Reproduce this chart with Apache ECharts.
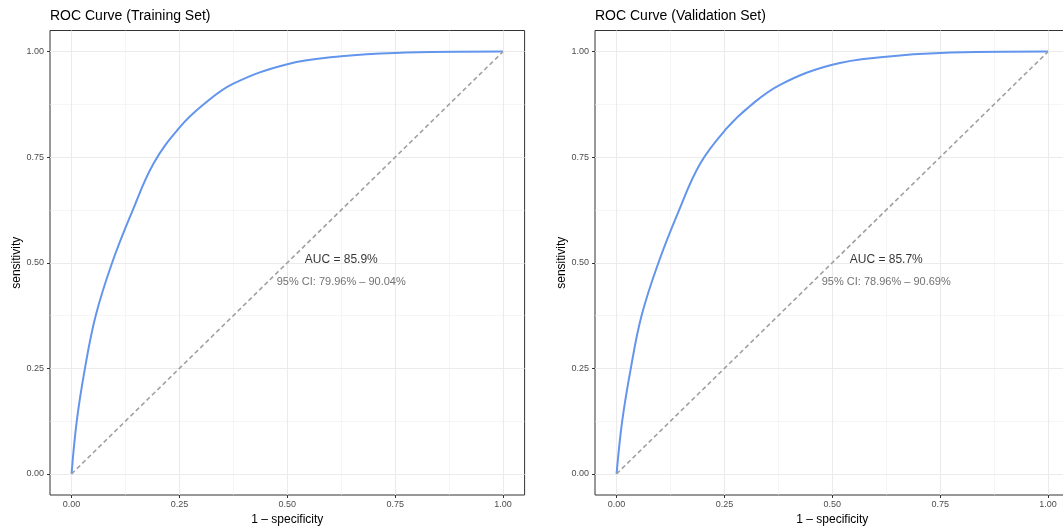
<!DOCTYPE html>
<html>
<head>
<meta charset="utf-8">
<script src="https://cdn.jsdelivr.net/npm/echarts@6/dist/echarts.min.js"></script>
<style>html,body{margin:0;padding:0;background:#fff;overflow:hidden}#c{width:1080px;height:527px}</style>
</head>
<body>
<div id="c"></div>
<script>
// ---- data ----
const panelTitles = ['ROC Curve (Training Set)', 'ROC Curve (Validation Set)'];
const fprTrain = [0, 0.012, 0.031, 0.056, 0.094, 0.14, 0.19, 0.25, 0.305, 0.375, 0.5, 0.625, 0.75, 1];
const tprTrain = [0, 0.125, 0.25, 0.375, 0.5, 0.62, 0.735, 0.82, 0.874, 0.924, 0.970, 0.989, 0.997, 1];
const fprValid = [0, 0.013, 0.033, 0.058, 0.097, 0.143, 0.194, 0.255, 0.31, 0.38, 0.5, 0.625, 0.75, 1];
const tprValid = [0, 0.125, 0.25, 0.375, 0.5, 0.62, 0.735, 0.818, 0.872, 0.922, 0.969, 0.988, 0.997, 1];
const diagX = [0, 1];
const diagY = [0, 1];
const aucLabels = ['AUC = 85.9%', 'AUC = 85.7%'];
const ciLabels = ['95% CI: 79.96% \u2013 90.04%', '95% CI: 78.96% \u2013 90.69%'];
const majorTicks = [0, 0.25, 0.5, 0.75, 1];
const minorTicks = [0.125, 0.375, 0.625, 0.875];
const xTitle = '1 \u2013 specificity';
const yTitle = 'sensitivity';

// ---- chart ----
const FONT = '"Liberation Sans", Arial, Helvetica, sans-serif';
const zip = (a, b) => a.map((v, i) => [v, b[i]]);
const curves = [zip(fprTrain, tprTrain), zip(fprValid, tprValid)];
const panelLeft = [50, 595];
const PW = 474.6, PH = 464.5, PT = 30.5;

const grids = [], xAxes = [], yAxes = [], series = [], titles = [];
panelLeft.forEach((L, p) => {
  grids.push({left: L, top: PT, width: PW, height: PH, show: true, borderColor: '#333333', borderWidth: 1,
    backgroundColor: 'transparent', containLabel: false, outerBoundsMode: 'none'});
  titles.push({text: panelTitles[p], left: L, top: 9, padding: 0,
    textStyle: {fontFamily: FONT, fontSize: 14, fontWeight: 'normal', color: '#000'}});
  xAxes.push({type: 'value', gridIndex: p, min: -0.05, max: 1.05, position: 'bottom',
    name: xTitle, nameLocation: 'middle', nameGap: 17,
    nameTextStyle: {fontFamily: FONT, fontSize: 12, color: '#000'},
    axisLine: {show: false, onZero: false},
    axisTick: {show: true, length: 3, customValues: majorTicks, lineStyle: {color: '#333333', width: 1}},
    axisLabel: {show: true, customValues: majorTicks, margin: 5, fontFamily: FONT, fontSize: 9, color: '#4D4D4D', formatter: v => v.toFixed(2)},
    splitLine: {show: true, lineStyle: {color: '#EBEBEB', width: 1.1}}});
  xAxes.push({type: 'value', gridIndex: p, min: -0.05, max: 1.05, position: 'bottom',
    axisLine: {show: false, onZero: false},
    axisTick: {show: false, customValues: minorTicks},
    axisLabel: {show: false, customValues: minorTicks},
    splitLine: {show: true, lineStyle: {color: '#EFEFEF', width: 0.6}}});
  yAxes.push({type: 'value', gridIndex: p, min: -0.05, max: 1.05, position: 'left',
    name: yTitle, nameLocation: 'middle', nameGap: 25, nameRotate: 90,
    nameTextStyle: {fontFamily: FONT, fontSize: 12, color: '#000'},
    axisLine: {show: false, onZero: false},
    axisTick: {show: true, length: 3, customValues: majorTicks, lineStyle: {color: '#333333', width: 1}},
    axisLabel: {show: true, customValues: majorTicks, margin: 6, fontFamily: FONT, fontSize: 9, color: '#4D4D4D', formatter: v => v.toFixed(2)},
    splitLine: {show: true, lineStyle: {color: '#EBEBEB', width: 1.1}}});
  yAxes.push({type: 'value', gridIndex: p, min: -0.05, max: 1.05, position: 'left',
    axisLine: {show: false, onZero: false},
    axisTick: {show: false, customValues: minorTicks},
    axisLabel: {show: false, customValues: minorTicks},
    splitLine: {show: true, lineStyle: {color: '#EFEFEF', width: 0.6}}});

  const xi = p * 2, yi = p * 2;
  series.push({type: 'line', xAxisIndex: xi, yAxisIndex: yi, data: curves[p], showSymbol: false,
    smooth: 0.4, silent: true, z: 3,
    lineStyle: {color: '#6495ED', width: 2}});
  series.push({type: 'line', xAxisIndex: xi, yAxisIndex: yi, data: zip(diagX, diagY), showSymbol: false,
    silent: true, z: 4, lineStyle: {color: '#A0A0A0', width: 1.6, type: [4.5, 3]}});
  series.push({type: 'scatter', xAxisIndex: xi, yAxisIndex: yi, symbolSize: 1, silent: true, z: 5,
    itemStyle: {color: 'rgba(0,0,0,0)'},
    data: [{value: [0.625, 0.507], label: {formatter: aucLabels[p], fontSize: 12, color: '#000'}},
           {value: [0.625, 0.455], label: {formatter: ciLabels[p], fontSize: 11, color: '#4D4D4D'}}],
    label: {show: true, position: 'inside', align: 'center', verticalAlign: 'middle', fontFamily: FONT}});
});

const chart = echarts.init(document.getElementById('c'), null, {renderer: 'canvas'});
chart.setOption({
  animation: false,
  backgroundColor: '#fff',
  title: titles,
  grid: grids,
  xAxis: xAxes,
  yAxis: yAxes,
  series: series
});
</script>
</body>
</html>
